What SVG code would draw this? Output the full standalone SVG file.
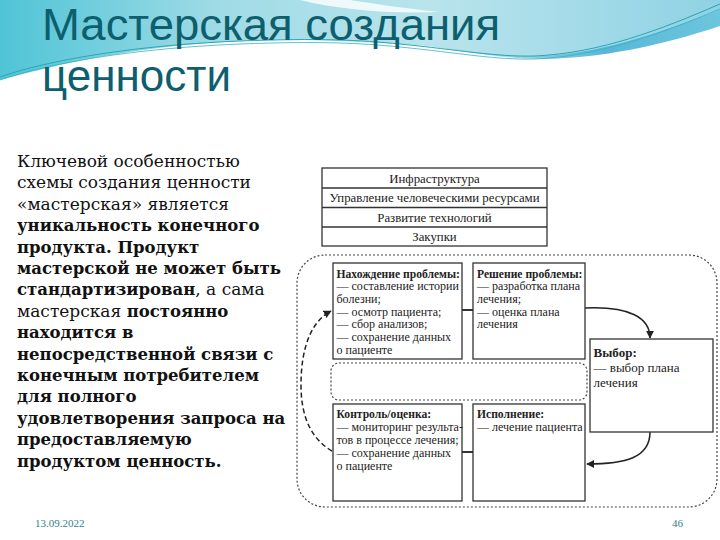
<svg xmlns="http://www.w3.org/2000/svg" width="720" height="540" viewBox="0 0 720 540">
<defs>
<linearGradient id="sky" x1="0" y1="0" x2="1" y2="0">
<stop offset="0" stop-color="#4fc4d6"/>
<stop offset="0.3" stop-color="#9fdbe6"/>
<stop offset="0.6" stop-color="#b9e4ec"/>
<stop offset="1" stop-color="#8fd2e4"/>
</linearGradient>
<linearGradient id="band" x1="0" y1="0" x2="1" y2="0">
<stop offset="0" stop-color="#7fcde0" stop-opacity="0.3"/>
<stop offset="0.6" stop-color="#58b6d8"/>
<stop offset="1" stop-color="#6cc6dd"/>
</linearGradient>
<marker id="ah" viewBox="0 0 10 10" refX="9" refY="5" markerWidth="8" markerHeight="8" markerUnits="userSpaceOnUse" orient="auto">
<path d="M0,0 L10,5 L0,10 Z" fill="#222"/>
</marker>
</defs>
<style>
.title{font-family:"Liberation Sans",Arial,sans-serif;font-size:44px;fill:#0e5f6e}
.para{font-family:"DejaVu Serif",serif;font-size:17px;fill:#111}
.para .b{font-size:16.5px}
.b{font-weight:bold}
.box{fill:#fff;stroke:#333;stroke-width:1.3}
.bt{font-family:"Liberation Serif",serif;font-size:12px;fill:#222}
.bt .b{font-size:11.6px}
.tt{font-family:"Liberation Serif",serif;font-size:12.8px;fill:#222;text-anchor:middle}
.dot{fill:none;stroke:#444;stroke-width:1.2;stroke-dasharray:2 2}
.link{stroke:#333;stroke-width:2;fill:none}
.arr{stroke:#222;stroke-width:1.5;fill:none}
.foot{font-family:"Liberation Serif",serif;font-size:11px;fill:#2f7f8f}
</style>
<rect width="720" height="540" fill="#fff"/>
<g id="background">
<path d="M0,0 H720 V18 C660,40 600,55 540,57 C480,58 450,46 400,44 C340,41 280,38 240,41 C150,46 80,58 0,80 Z" fill="url(#sky)"/>
<path d="M430,46 C480,52 510,58 545,56 C610,52 670,28 720,10 V26 C660,46 600,58 545,59 C500,59 470,52 430,46 Z" fill="url(#band)"/>
<path d="M300,0 C340,10 390,14 440,12 C400,8 370,3 350,0 Z" fill="#fff" opacity="0.8"/>
<path d="M0,77 C40,63 120,46 240,41 C320,38 360,40 400,44 C460,50 495,57 535,56 C600,53 660,30 720,4" fill="none" stroke="#2aa5b5" stroke-width="1"/>
<path d="M0,80 C40,66 120,49 240,44 C320,41 360,43 400,47 C460,53 495,60 535,59 C600,56 660,34 720,9" fill="none" stroke="#3bb0c0" stroke-width="0.8"/>
</g>
<g id="title">
<text class="title" x="42" y="40" textLength="458" lengthAdjust="spacingAndGlyphs">Мастерская создания</text>
<text class="title" x="42" y="91">ценности</text>
</g>
<g id="paragraph" class="para">
<text x="17" y="167">Ключевой особенностью</text>
<text x="17" y="188.4">схемы создания ценности</text>
<text x="17" y="209.8">«мастерская» является</text>
<text x="17" y="231.2" class="b">уникальность конечного</text>
<text x="17" y="252.6" class="b">продукта. Продукт</text>
<text x="17" y="274" class="b">мастерской не может быть</text>
<text x="17" y="295.4"><tspan class="b">стандартизирован</tspan>, а сама</text>
<text x="17" y="316.8">мастерская <tspan class="b">постоянно</tspan></text>
<text x="17" y="338.2" class="b">находится в</text>
<text x="17" y="359.6" class="b">непосредственной связи с</text>
<text x="17" y="381" class="b">конечным потребителем</text>
<text x="17" y="402.4" class="b">для полного</text>
<text x="17" y="423.8" class="b">удовлетворения запроса на</text>
<text x="17" y="445.2" class="b">предоставляемую</text>
<text x="17" y="466.6" class="b">продуктом ценность.</text>
</g>
<g id="support-table">
<rect class="box" x="322" y="168" width="225" height="78"/>
<line x1="322" y1="188" x2="547" y2="188" stroke="#333" stroke-width="1.3"/>
<line x1="322" y1="207.5" x2="547" y2="207.5" stroke="#333" stroke-width="1.3"/>
<line x1="322" y1="227" x2="547" y2="227" stroke="#333" stroke-width="1.3"/>
<text class="tt" x="434.5" y="182.5">Инфраструктура</text>
<text class="tt" x="434.5" y="202">Управление человеческими ресурсами</text>
<text class="tt" x="434.5" y="221.5">Развитие технологий</text>
<text class="tt" x="434.5" y="241">Закупки</text>
</g>
<g id="outer-frame">
<rect class="dot" x="297" y="255" width="420" height="252" rx="28"/>
</g>
<g id="inner-frame">
<rect class="dot" x="331" y="363" width="256" height="37" rx="8"/>
</g>
<g id="connectors">
<line class="link" x1="462" y1="310" x2="473" y2="310"/>
<line class="link" x1="462" y1="452" x2="473" y2="452"/>
<path class="arr" d="M585,308 C630,306 650,318 650,338" marker-end="url(#ah)"/>
<path class="arr" d="M650,432 C650,458 625,464 587,464" marker-end="url(#ah)"/>
<path class="arr" d="M332,451 C310,438 301,415 301,385 C301,350 310,322 331,311" stroke-dasharray="5 3" marker-end="url(#ah)"/>
</g>
<g id="node-finding">
<rect class="box" x="333" y="263" width="129" height="96"/>
<text class="bt" x="336.5" y="277.5"><tspan class="b">Нахождение проблемы:</tspan><tspan x="336.5" dy="12.7">— составление истории</tspan><tspan x="336.5" dy="12.7">болезни;</tspan><tspan x="336.5" dy="12.7">— осмотр пациента;</tspan><tspan x="336.5" dy="12.7">— сбор анализов;</tspan><tspan x="336.5" dy="12.7">— сохранение данных</tspan><tspan x="336.5" dy="12.7">о пациенте</tspan></text>
</g>
<g id="node-solving">
<rect class="box" x="473" y="263" width="112" height="96"/>
<text class="bt" x="477" y="277.5"><tspan class="b">Решение проблемы:</tspan><tspan x="477" dy="12.7">— разработка плана</tspan><tspan x="477" dy="12.7">лечения;</tspan><tspan x="477" dy="12.7">— оценка плана</tspan><tspan x="477" dy="12.7">лечения</tspan></text>
</g>
<g id="node-choice">
<rect class="box" x="590" y="339" width="123" height="93"/>
<text class="bt" x="593.5" y="356.5" style="font-size:13px"><tspan class="b" style="font-size:13px">Выбор:</tspan><tspan x="593.5" dy="15">— выбор плана</tspan><tspan x="593.5" dy="15">лечения</tspan></text>
</g>
<g id="node-control">
<rect class="box" x="333" y="404" width="129" height="97"/>
<text class="bt" x="336.5" y="417.5"><tspan class="b">Контроль/оценка:</tspan><tspan x="336.5" dy="13.2">— мониторинг результа-</tspan><tspan x="336.5" dy="13.2">тов в процессе лечения;</tspan><tspan x="336.5" dy="13.2">— сохранение данных</tspan><tspan x="336.5" dy="13.2">о пациенте</tspan></text>
</g>
<g id="node-execution">
<rect class="box" x="473" y="404" width="112" height="97"/>
<text class="bt" x="477" y="417.5"><tspan class="b">Исполнение:</tspan><tspan x="477" dy="13.2">— лечение пациента</tspan></text>
</g>
<g id="footer">
<text class="foot" x="35" y="527">13.09.2022</text>
<text class="foot" x="672" y="527">46</text>
</g>
</svg>
